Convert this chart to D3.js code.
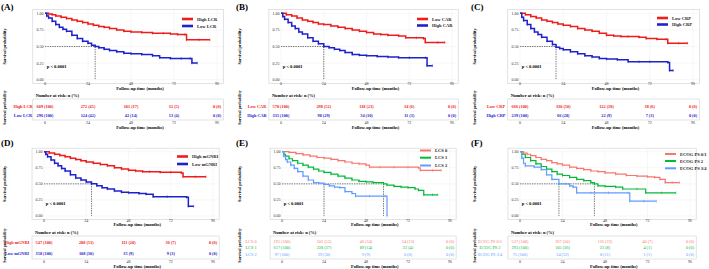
<!DOCTYPE html>
<html>
<head>
<meta charset="utf-8">
<script src="https://cdn.jsdelivr.net/npm/d3@7"></script>
<style>
  body { margin: 0; background: #fff; }
  svg { display: block; }
</style>
</head>
<body>
<div id="chart"></div>
<script>
// ---- data ----
var timeTicks = [0, 24, 48, 72, 96];
var survTicks = [0, 0.25, 0.5, 0.75, 1];
var survTickLabels = ["0.00", "0.25", "0.50", "0.75", "1.00"];

// (A) LCR
var groupsA = ["High LCR", "Low LCR"];
var highLCR = [[0,1],[2,0.99],[4,0.98],[6,0.96],[9,0.94],[12,0.92],[15,0.9],[18,0.88],[21,0.86],[24,0.84],[27,0.82],[30,0.8],[33,0.79],[36,0.77],[40,0.75],[44,0.73],[48,0.72],[54,0.71],[60,0.7],[66,0.7],[70,0.69],[74,0.68],[78,0.68],[79,0.6],[86,0.6],[92,0.6]];
var lowLCR = [[0,1],[1,0.96],[2,0.93],[4,0.88],[6,0.83],[8,0.79],[10,0.76],[12,0.73],[15,0.67],[18,0.62],[21,0.58],[24,0.55],[26,0.52],[28,0.5],[30,0.48],[33,0.46],[36,0.44],[40,0.42],[44,0.4],[48,0.39],[54,0.38],[60,0.36],[64,0.33],[70,0.32],[76,0.32],[81,0.32],[82,0.25],[85,0.25]];
var riskHighLCR = ["609 (100)", "272 (45)", "101 (17)", "32 (5)", "0 (0)"];
var riskLowLCR = ["296 (100)", "124 (42)", "42 (14)", "13 (4)", "0 (0)"];
var mediansA = [28];

// (B) CAR
var groupsB = ["Low CAR", "High CAR"];
var lowCAR = [[0,1],[3,0.98],[6,0.96],[9,0.93],[12,0.9],[15,0.88],[18,0.86],[21,0.84],[24,0.83],[28,0.81],[32,0.79],[36,0.77],[40,0.75],[44,0.73],[48,0.71],[52,0.69],[56,0.68],[60,0.67],[66,0.66],[70,0.63],[76,0.63],[80,0.62],[81,0.56],[88,0.56],[92,0.56]];
var highCAR = [[0,1],[1,0.95],[2,0.91],[4,0.86],[6,0.81],[8,0.77],[10,0.72],[12,0.69],[15,0.63],[18,0.58],[21,0.54],[24,0.5],[27,0.48],[30,0.46],[33,0.44],[36,0.41],[40,0.38],[44,0.37],[48,0.36],[54,0.35],[60,0.34],[66,0.33],[72,0.33],[81,0.33],[82,0.21],[85,0.21]];
var riskLowCAR = ["570 (100)", "298 (52)", "118 (21)", "34 (6)", "0 (0)"];
var riskHighCAR = ["335 (100)", "98 (29)", "34 (10)", "11 (3)", "0 (0)"];
var mediansB = [24];

// (C) CRP
var groupsC = ["Low CRP", "High CRP"];
var lowCRP = [[0,1],[3,0.98],[6,0.95],[9,0.93],[12,0.9],[15,0.88],[18,0.86],[21,0.84],[24,0.82],[28,0.8],[32,0.77],[36,0.75],[40,0.73],[44,0.7],[48,0.67],[52,0.66],[56,0.65],[60,0.65],[66,0.64],[70,0.62],[76,0.61],[81,0.61],[82,0.55],[88,0.55],[93,0.55]];
var highCRP = [[0,1],[1,0.94],[2,0.89],[4,0.83],[6,0.77],[8,0.72],[10,0.68],[12,0.64],[15,0.58],[18,0.53],[20,0.49],[22,0.47],[24,0.45],[28,0.42],[32,0.39],[36,0.36],[40,0.34],[44,0.32],[48,0.31],[54,0.3],[60,0.27],[66,0.27],[72,0.27],[82,0.26],[83,0.14],[85,0.14]];
var riskLowCRP = ["666 (100)", "330 (50)", "122 (18)", "38 (6)", "0 (0)"];
var riskHighCRP = ["239 (100)", "66 (28)", "22 (9)", "7 (3)", "0 (0)"];
var mediansC = [20];

// (D) mGNRI
var groupsD = ["High mGNRI", "Low mGNRI"];
var highGNRI = [[0,1],[3,0.98],[6,0.96],[9,0.94],[12,0.92],[15,0.9],[18,0.88],[21,0.86],[24,0.84],[28,0.82],[32,0.8],[36,0.78],[40,0.75],[44,0.73],[48,0.71],[52,0.7],[56,0.69],[60,0.69],[66,0.68],[72,0.68],[78,0.67],[79,0.61],[86,0.61],[92,0.61]];
var lowGNRI = [[0,1],[1,0.96],[2,0.92],[4,0.87],[6,0.82],[8,0.78],[10,0.74],[12,0.7],[15,0.64],[18,0.59],[21,0.56],[24,0.53],[27,0.5],[30,0.47],[33,0.44],[36,0.42],[40,0.39],[44,0.37],[48,0.36],[54,0.35],[58,0.34],[62,0.3],[70,0.3],[81,0.29],[82,0.15],[85,0.15]];
var riskHighGNRI = ["547 (100)", "288 (53)", "111 (20)", "36 (7)", "0 (0)"];
var riskLowGNRI = ["358 (100)", "108 (30)", "35 (9)", "9 (3)", "0 (0)"];
var mediansD = [27];

// (E) LCS
var groupsE = ["LCS 0", "LCS 1", "LCS 2"];
var lcs0 = [[0,1],[4,0.99],[8,0.97],[12,0.95],[16,0.93],[20,0.91],[24,0.9],[28,0.88],[32,0.86],[36,0.84],[40,0.82],[44,0.81],[48,0.79],[50,0.76],[56,0.76],[64,0.76],[72,0.76],[78,0.75],[79,0.71],[86,0.71],[91,0.71]];
var lcs1 = [[0,1],[1,0.96],[2,0.93],[4,0.89],[6,0.86],[9,0.82],[12,0.79],[15,0.76],[18,0.73],[21,0.7],[24,0.68],[28,0.65],[32,0.62],[36,0.59],[40,0.56],[44,0.54],[48,0.53],[52,0.52],[58,0.5],[60,0.48],[64,0.46],[68,0.45],[72,0.44],[76,0.42],[78,0.4],[81,0.33],[86,0.33],[89,0.33]];
var lcs2 = [[0,1],[1,0.93],[2,0.88],[3,0.84],[5,0.79],[7,0.74],[9,0.69],[12,0.62],[15,0.56],[18,0.52],[21,0.51],[24,0.49],[27,0.47],[30,0.45],[33,0.44],[36,0.38],[40,0.35],[42,0.31],[50,0.31],[59,0.31],[60,0]];
var riskLCS0 = ["191 (100)", "102 (53)", "46 (24)", "24 (13)", "0 (0)"];
var riskLCS1 = ["617 (100)", "228 (37)", "89 (14)", "22 (4)", "0 (0)"];
var riskLCS2 = ["97 (100)", "29 (30)", "9 (9)", "0 (0)", "0 (0)"];
var mediansE = [24, 58];

// (F) ECOG PS
var groupsF = ["ECOG PS 0/1", "ECOG PS 2", "ECOG PS 3/4"];
var ecog01 = [[0,1],[2,0.98],[4,0.96],[6,0.94],[9,0.91],[12,0.88],[15,0.86],[18,0.83],[21,0.81],[24,0.79],[28,0.76],[32,0.74],[36,0.72],[40,0.7],[44,0.69],[48,0.67],[54,0.65],[60,0.63],[66,0.62],[72,0.61],[76,0.6],[79,0.57],[82,0.52],[86,0.52],[90,0.52]];
var ecog2 = [[0,1],[1,0.96],[3,0.91],[6,0.86],[9,0.81],[12,0.77],[15,0.73],[18,0.69],[21,0.65],[24,0.63],[28,0.6],[32,0.57],[36,0.55],[40,0.52],[42,0.5],[44,0.47],[48,0.46],[54,0.45],[58,0.42],[66,0.42],[71,0.36],[80,0.36],[88,0.36]];
var ecog34 = [[0,1],[1,0.9],[2,0.82],[3,0.78],[8,0.76],[12,0.72],[15,0.64],[18,0.57],[22,0.5],[26,0.5],[28,0.47],[30,0.45],[32,0.36],[40,0.36],[50,0.36],[61,0.36],[62,0.23],[70,0.23],[77,0.23]];
var riskEcog01 = ["537 (100)", "267 (50)", "116 (22)", "40 (7)", "0 (0)"];
var riskEcog2 = ["293 (100)", "105 (36)", "23 (8)", "4 (1)", "0 (0)"];
var riskEcog34 = ["75 (100)", "24 (32)", "8 (11)", "1 (1)", "0 (0)"];
var mediansF = [22, 42];

// ---- styling / layout ----
var RED = "#ef1c1c", BLUE = "#1f22cc";
var HUE = ["#F8766D", "#00BA38", "#619CFF"];
var FONT = "'Liberation Serif', 'Times New Roman', serif";

var rowLayout = {
  top:    { yTop: 13.3, yBot: 79.7, tTop: 99,  tBot: 120, rows2: [106, 115], rows3: [104, 110.5, 117], riskTitle: 96.5, labelY: 10 },
  bottom: { yTop: 16.7, yBot: 81,   tTop: 101, tBot: 124, rows2: [107, 118], rows3: [106, 112.5, 119], riskTitle: 99, labelY: 11 }
};

var panels = [
  { label: "(A)", ox: 0,   oy: 0,   x0: 45,  x96: 217, row: "top", groups: groupsA, curves: [highLCR, lowLCR], risk: [riskHighLCR, riskLowLCR], colors: [RED, BLUE], medians: mediansA, legX: 182, legY: [19, 26], rowLabelX: 23, bold: true },
  { label: "(B)", ox: 235, oy: 0,   x0: 46,  x96: 217, row: "top", groups: groupsB, curves: [lowCAR, highCAR], risk: [riskLowCAR, riskHighCAR], colors: [RED, BLUE], medians: mediansB, legX: 182, legY: [19, 25.5], rowLabelX: 22, bold: true },
  { label: "(C)", ox: 470, oy: 0,   x0: 50,  x96: 223, row: "top", groups: groupsC, curves: [lowCRP, highCRP], risk: [riskLowCRP, riskHighCRP], colors: [RED, BLUE], medians: mediansC, legX: 187, legY: [18, 24.5], rowLabelX: 26, bold: true },
  { label: "(D)", ox: 0,   oy: 135, x0: 44,  x96: 213, row: "bottom", groups: groupsD, curves: [highGNRI, lowGNRI], risk: [riskHighGNRI, riskLowGNRI], colors: [RED, BLUE], medians: mediansD, legX: 177, legY: [21.5, 29], rowLabelX: 17, bold: true },
  { label: "(E)", ox: 235, oy: 135, x0: 47,  x96: 215, row: "bottom", groups: groupsE, curves: [lcs0, lcs1, lcs2], risk: [riskLCS0, riskLCS1, riskLCS2], colors: HUE, medians: mediansE, legX: 185, legY: [15.5, 22.7, 30.5], rowLabelX: 16, bold: false },
  { label: "(F)", ox: 470, oy: 135, x0: 50,  x96: 220, row: "bottom", groups: groupsF, curves: [ecog01, ecog2, ecog34], risk: [riskEcog01, riskEcog2, riskEcog34], colors: HUE, medians: mediansF, legX: 195, legY: [19, 26, 33.3], rowLabelX: 20, bold: false }
];

var svg = d3.select("#chart")
  .append("svg")
    .attr("width", 709)
    .attr("height", 269)
    .style("font-family", FONT);

function drawPanel(p) {
  var L = rowLayout[p.row];
  var g = svg.append("g").attr("transform", "translate(" + p.ox + "," + p.oy + ")");

  var x = d3.scaleLinear().domain([0, 96]).range([p.x0, p.x96]);
  var y = d3.scaleLinear().domain([0, 1]).range([L.yBot, L.yTop]);
  var boxL = x(-6.8), boxR = x(99.5);
  var boxT = y(1.055), boxB = y(-0.055);

  // panel letter
  g.append("text")
    .attr("x", 1).attr("y", L.labelY)
    .attr("font-size", "9px").attr("font-weight", "bold")
    .text(p.label);

  // plot frame + grid
  g.append("rect")
    .attr("x", boxL).attr("y", boxT)
    .attr("width", boxR - boxL).attr("height", boxB - boxT)
    .attr("fill", "#fff").attr("stroke", "#cfcfcf").attr("stroke-width", 0.6);

  g.selectAll(".gx").data(timeTicks).enter().append("line")
    .attr("x1", function(d) { return x(d); }).attr("x2", function(d) { return x(d); })
    .attr("y1", boxT).attr("y2", boxB)
    .attr("stroke", "#eeeeee").attr("stroke-width", 0.5);
  g.selectAll(".gy").data(survTicks).enter().append("line")
    .attr("x1", x(-1.5)).attr("x2", boxR)
    .attr("y1", function(d) { return y(d); }).attr("y2", function(d) { return y(d); })
    .attr("stroke", "#eeeeee").attr("stroke-width", 0.5);

  // tick labels
  g.selectAll(".ty").data(survTicks).enter().append("text")
    .attr("x", x(-0.8)).attr("y", function(d) { return y(d) + 1.4; })
    .attr("text-anchor", "end").attr("font-size", "4px").attr("fill", "#333")
    .text(function(d, i) { return survTickLabels[i]; });
  g.selectAll(".tx").data(timeTicks).enter().append("text")
    .attr("x", function(d) { return x(d); }).attr("y", boxB + 2)
    .attr("text-anchor", "middle").attr("font-size", "4px").attr("fill", "#333")
    .text(function(d) { return d; });

  g.append("text")
    .attr("x", x(53)).attr("y", boxB + 6.5)
    .attr("text-anchor", "middle").attr("font-size", "4.5px").attr("font-weight", "bold")
    .text("Follow-up time (months)");
  g.append("text")
    .attr("transform", "translate(6," + ((boxT + boxB) / 2) + ") rotate(-90)")
    .attr("text-anchor", "middle").attr("font-size", "4.2px").attr("font-weight", "bold")
    .text("Survival probability");

  // median lines
  var mmax = d3.max(p.medians);
  g.append("line")
    .attr("x1", x(0)).attr("x2", x(mmax))
    .attr("y1", y(0.5)).attr("y2", y(0.5))
    .attr("stroke", "#222").attr("stroke-width", 0.6).attr("stroke-dasharray", "1.4,1");
  g.selectAll(".med").data(p.medians).enter().append("line")
    .attr("x1", function(d) { return x(d); }).attr("x2", function(d) { return x(d); })
    .attr("y1", y(0.5)).attr("y2", y(0))
    .attr("stroke", "#222").attr("stroke-width", 0.6).attr("stroke-dasharray", "1.4,1");

  // KM curves
  var line = d3.line()
    .x(function(d) { return x(d[0]); })
    .y(function(d) { return y(d[1]); })
    .curve(d3.curveStepAfter);
  var lw = p.bold ? 1.5 : 1.2;
  p.curves.forEach(function(c, i) {
    g.append("path")
      .datum(c)
      .attr("d", line)
      .attr("fill", "none")
      .attr("stroke", p.colors[i])
      .attr("stroke-width", lw);
    // censor marks
    g.selectAll(null).data(c.slice(1)).enter().append("line")
      .attr("x1", function(d) { return x(d[0]); }).attr("x2", function(d) { return x(d[0]); })
      .attr("y1", function(d) { return y(d[1]) - 1.3; }).attr("y2", function(d) { return y(d[1]) + 1.3; })
      .attr("stroke", p.colors[i]).attr("stroke-width", 0.6);
  });

  // p-value
  g.append("text")
    .attr("x", x(1)).attr("y", y(0.17))
    .attr("font-size", "4.5px").attr("font-weight", "bold")
    .text("p < 0.0001");

  // legend
  p.groups.forEach(function(name, i) {
    g.append("line")
      .attr("x1", p.legX).attr("x2", p.legX + 11)
      .attr("y1", p.legY[i]).attr("y2", p.legY[i])
      .attr("stroke", p.colors[i]).attr("stroke-width", p.bold ? 2.6 : 2);
    g.append("text")
      .attr("x", p.legX + 15).attr("y", p.legY[i] + 1.5)
      .attr("font-size", "4.5px").attr("font-weight", "bold").attr("fill", "#222")
      .text(name);
  });

  // risk table
  var rowsY = p.groups.length === 3 ? L.rows3 : L.rows2;
  g.append("text")
    .attr("x", boxL + 3).attr("y", L.riskTitle)
    .attr("font-size", "4.5px").attr("font-weight", "bold")
    .text("Number at risk: n (%)");
  g.append("rect")
    .attr("x", boxL).attr("y", L.tTop)
    .attr("width", boxR - boxL).attr("height", L.tBot - L.tTop)
    .attr("fill", "#fff").attr("stroke", "#cfcfcf").attr("stroke-width", 0.6);
  p.risk.forEach(function(r, i) {
    g.selectAll(null).data(r).enter().append("text")
      .attr("x", function(d, j) { return x(timeTicks[j]); })
      .attr("y", rowsY[i] + 1.5)
      .attr("text-anchor", "middle")
      .attr("font-size", "4.3px")
      .attr("font-weight", p.bold ? "bold" : "normal")
      .attr("fill", p.colors[i])
      .text(function(d) { return d; });
    g.append("text")
      .attr("x", p.rowLabelX).attr("y", rowsY[i] + 1.5)
      .attr("text-anchor", "middle")
      .attr("font-size", "4.3px")
      .attr("font-weight", p.bold ? "bold" : "normal")
      .attr("fill", p.colors[i])
      .text(p.groups[i]);
  });
  g.selectAll(".rt").data(timeTicks).enter().append("text")
    .attr("x", function(d) { return x(d); }).attr("y", L.tBot + 4)
    .attr("text-anchor", "middle").attr("font-size", "4px").attr("fill", "#333")
    .text(function(d) { return d; });
  g.append("text")
    .attr("x", x(53)).attr("y", L.tBot + 8.5)
    .attr("text-anchor", "middle").attr("font-size", "4.5px").attr("font-weight", "bold")
    .text("Follow-up time (months)");
  g.append("text")
    .attr("transform", "translate(6," + ((L.tTop + L.tBot) / 2 - 2) + ") rotate(-90)")
    .attr("text-anchor", "middle").attr("font-size", "4px").attr("font-weight", "bold")
    .text("Survival probability");
}

panels.forEach(drawPanel);
</script>
</body>
</html>
